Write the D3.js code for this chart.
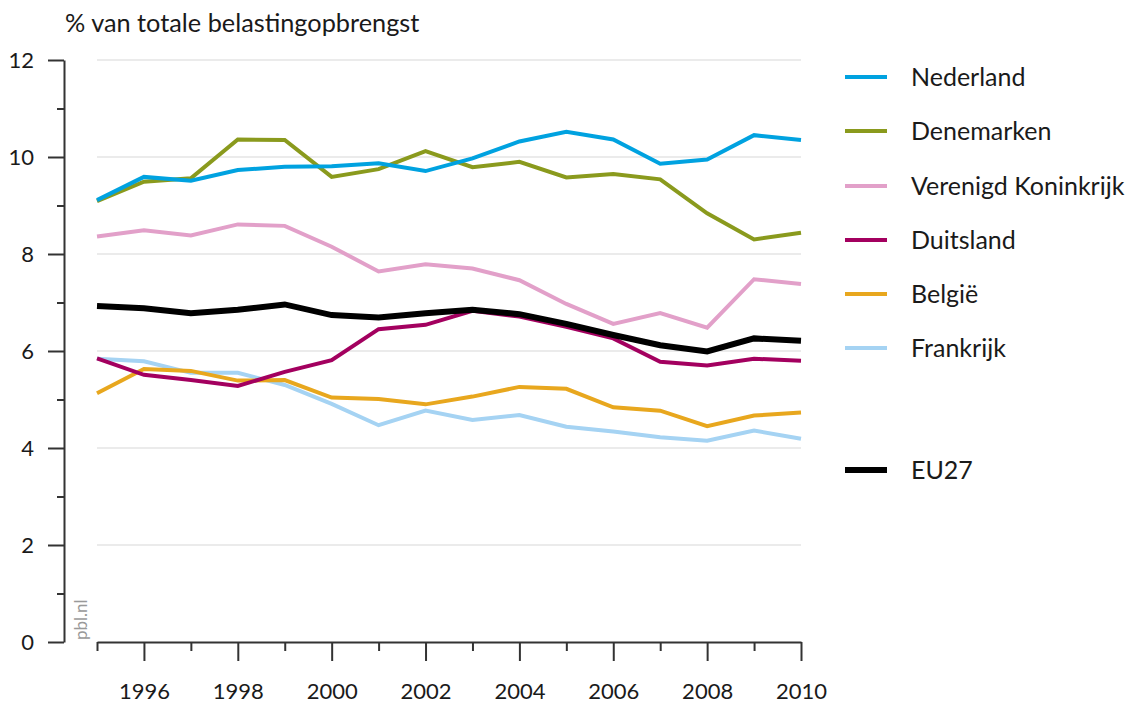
<!DOCTYPE html>
<html>
<head>
<meta charset="utf-8">
<script src="https://cdn.jsdelivr.net/npm/d3@7"></script>
<style>
  body { margin: 0; background: #fff; }
  text { font-family: Lato, "Open Sans", sans-serif; fill: #1a1a1a; }
</style>
</head>
<body>
<div id="chart"></div>
<script>
// Data: share of total tax revenue (%)
const years = d3.range(1995, 2011);
const nederland  = [9.11, 9.59, 9.51, 9.73, 9.80, 9.81, 9.87, 9.71, 9.97, 10.32, 10.52, 10.36, 9.86, 9.95, 10.45, 10.35];
const denemarken = [9.09, 9.49, 9.56, 10.36, 10.35, 9.59, 9.75, 10.12, 9.79, 9.90, 9.58, 9.65, 9.54, 8.84, 8.30, 8.44];
const verenigdKoninkrijk = [8.36, 8.49, 8.38, 8.61, 8.58, 8.15, 7.64, 7.79, 7.70, 7.46, 6.97, 6.56, 6.78, 6.48, 7.48, 7.38];
const duitsland  = [5.85, 5.51, 5.40, 5.28, 5.57, 5.81, 6.45, 6.54, 6.83, 6.71, 6.50, 6.26, 5.78, 5.70, 5.84, 5.80];
const belgie     = [5.13, 5.63, 5.59, 5.39, 5.40, 5.04, 5.01, 4.90, 5.06, 5.26, 5.22, 4.84, 4.77, 4.45, 4.67, 4.73];
const frankrijk  = [5.84, 5.79, 5.55, 5.55, 5.30, 4.91, 4.47, 4.77, 4.58, 4.68, 4.44, 4.34, 4.22, 4.15, 4.36, 4.19];
const eu27       = [6.93, 6.88, 6.78, 6.85, 6.96, 6.74, 6.69, 6.78, 6.85, 6.76, 6.56, 6.33, 6.12, 5.99, 6.26, 6.21];

const seriesNames = ["Nederland", "Denemarken", "Verenigd Koninkrijk", "Duitsland", "België", "Frankrijk", "EU27"];
const seriesValues = [nederland, denemarken, verenigdKoninkrijk, duitsland, belgie, frankrijk, eu27];
const colors = ["#00a2e0", "#8a9a1d", "#e2a0c9", "#a3005f", "#e8a71e", "#a5d3f3", "#000000"];

const yMajor = [0, 2, 4, 6, 8, 10, 12];
const yMinor = [1, 3, 5, 7, 9, 11];
const xMajor = [1996, 1998, 2000, 2002, 2004, 2006, 2008, 2010];
const xMinor = [1995, 1997, 1999, 2001, 2003, 2005, 2007, 2009];

const width = 1130, height = 706;

const svg = d3.select("#chart").append("svg")
  .attr("width", width)
  .attr("height", height);

// Scales
const x = d3.scaleLinear().domain([1995, 2010]).range([97, 801]);
const y = d3.scaleLinear().domain([0, 12]).range([642, 60]);

// Gridlines
svg.append("g")
  .selectAll("line")
  .data(yMajor.filter(d => d > 0))
  .enter().append("line")
  .attr("x1", x(1995))
  .attr("x2", x(2010))
  .attr("y1", d => y(d))
  .attr("y2", d => y(d))
  .attr("stroke", "#e4e4e4")
  .attr("stroke-width", 1.5);

// Y axis (detached to the left)
const yAxisMajor = d3.axisLeft(y).tickValues(yMajor).tickSize(16).tickPadding(14).tickSizeOuter(0);
const yAxisMinor = d3.axisLeft(y).tickValues(yMinor).tickSize(7).tickFormat("").tickSizeOuter(0);

svg.append("g").attr("transform", "translate(64,0)").call(yAxisMajor);
svg.append("g").attr("transform", "translate(64,0)").call(yAxisMinor).select(".domain").remove();

// X axis
const xAxisMajor = d3.axisBottom(x).tickValues(xMajor).tickSize(19).tickPadding(22).tickFormat(d3.format("d")).tickSizeOuter(0);
const xAxisMinor = d3.axisBottom(x).tickValues(xMinor).tickSize(9).tickFormat("").tickSizeOuter(0);

svg.append("g").attr("transform", "translate(0,642)").call(xAxisMajor);
svg.append("g").attr("transform", "translate(0,642)").call(xAxisMinor).select(".domain").remove();

svg.selectAll(".domain, .tick line")
  .attr("stroke", "#333")
  .attr("stroke-width", 2);
svg.selectAll(".tick text")
  .attr("font-size", 22)
  .attr("font-family", "Lato, sans-serif")
  .attr("fill", "#1a1a1a");

// Lines
const line = d3.line()
  .x((d, i) => x(years[i]))
  .y(d => y(d));

const order = [2, 5, 4, 3, 1, 0, 6];
svg.append("g")
  .selectAll("path")
  .data(order)
  .enter().append("path")
  .attr("d", k => line(seriesValues[k]))
  .attr("fill", "none")
  .attr("stroke", k => colors[k])
  .attr("stroke-width", k => k === 6 ? 6 : 4)
  .attr("stroke-linejoin", "miter");

// Legend
const legendY = [77, 131, 186, 240, 294, 348, 470];
const legend = svg.append("g")
  .selectAll("g")
  .data(seriesNames)
  .enter().append("g")
  .attr("transform", (d, i) => "translate(0," + legendY[i] + ")");

legend.append("line")
  .attr("x1", 845)
  .attr("x2", 887)
  .attr("stroke", (d, i) => colors[i])
  .attr("stroke-width", (d, i) => i === 6 ? 6 : 4);

legend.append("text")
  .attr("x", 911)
  .attr("y", 9)
  .attr("font-size", 25)
  .text(d => d);

// Title
svg.append("text")
  .attr("x", 65)
  .attr("y", 32)
  .attr("font-size", 25.3)
  .text("% van totale belastingopbrengst");

// Source
svg.append("text")
  .attr("transform", "translate(87,640) rotate(-90)")
  .attr("font-size", 17)
  .style("fill", "#999")
  .text("pbl.nl");
</script>
</body>
</html>
